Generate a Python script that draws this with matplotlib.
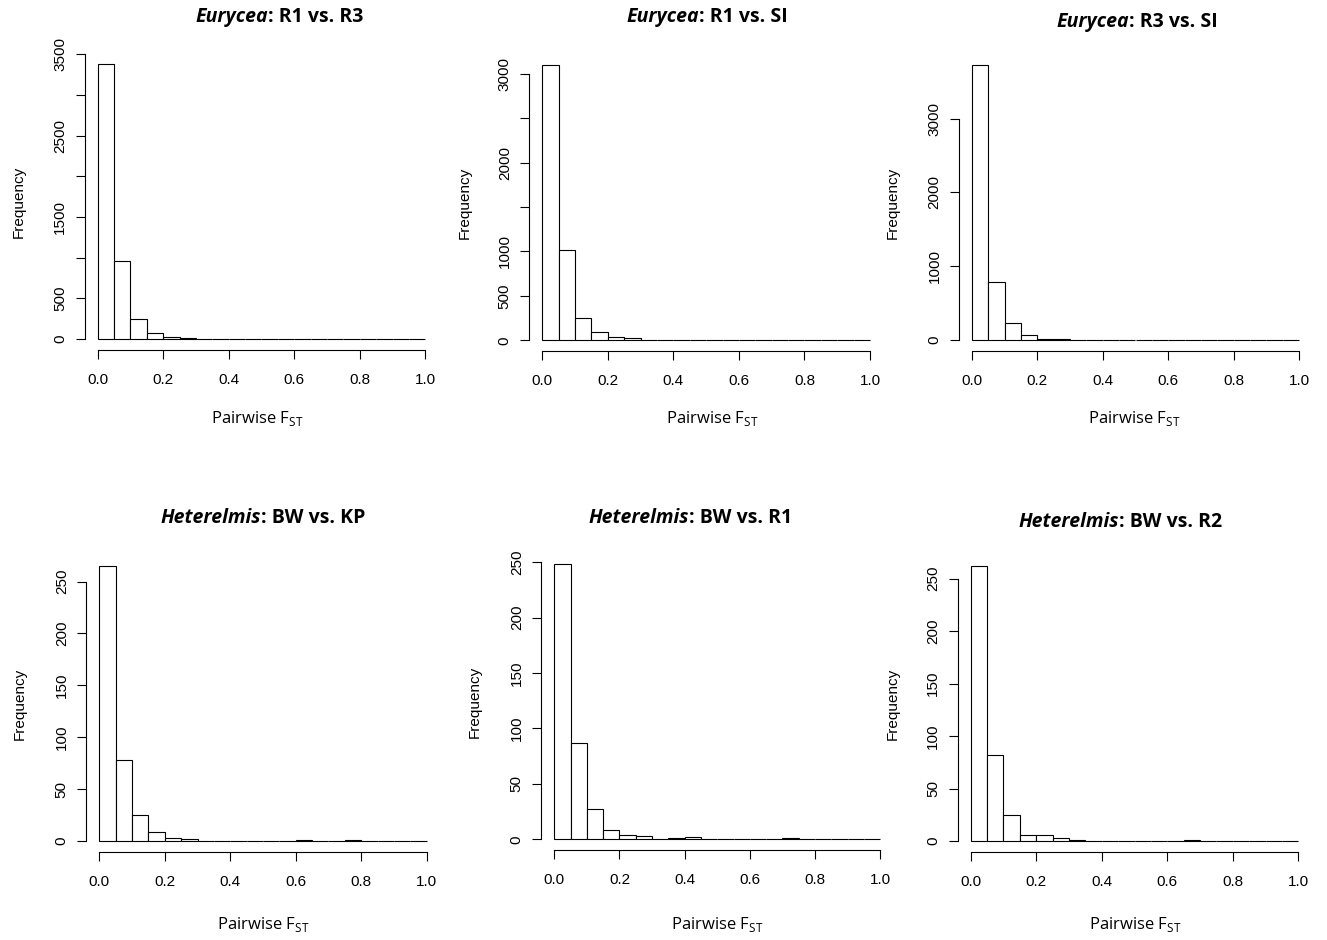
import numpy as np
import matplotlib
matplotlib.use("Agg")
import matplotlib.pyplot as plt

# ---------------- data ----------------
bin_edges = [round(0.05 * i, 2) for i in range(21)]

titles_genus = ["Eurycea", "Eurycea", "Eurycea", "Heterelmis", "Heterelmis", "Heterelmis"]
titles_pair = [": R1 vs. R3", ": R1 vs. SI", ": R3 vs. SI",
               ": BW vs. KP", ": BW vs. R1", ": BW vs. R2"]

counts_r1_r3 = [3381, 954, 250, 78, 29, 16, 5, 3, 0, 0, 0, 0, 0, 0, 0, 0, 0, 0, 0, 0]
counts_r1_si = [3098, 1018, 255, 98, 34, 23, 5, 2, 1, 2, 0, 2, 0, 0, 0, 0, 0, 0, 0, 0]
counts_r3_si = [3721, 785, 230, 68, 18, 13, 5, 2, 0, 0, 0, 0, 0, 0, 0, 0, 0, 0, 0, 0]
counts_bw_kp = [265, 78, 25, 9, 3, 2, 0, 0, 0, 0, 0, 0, 1, 0, 0, 1, 0, 0, 0, 0]
counts_bw_r1 = [248, 87, 27, 8, 4, 3, 0, 1, 2, 0, 0, 0, 0, 0, 1, 0, 0, 0, 0, 0]
counts_bw_r2 = [262, 82, 25, 6, 6, 3, 1, 0, 0, 0, 0, 0, 0, 1, 0, 0, 0, 0, 0, 0]

x_ticks = [0.0, 0.2, 0.4, 0.6, 0.8, 1.0]
x_ticklabels = ["0.0", "0.2", "0.4", "0.6", "0.8", "1.0"]

y_ticks_1 = [0, 500, 1000, 1500, 2000, 2500, 3000, 3500]
y_labels_1 = ["0", "500", "", "1500", "", "2500", "", "3500"]
y_ticks_2 = [0, 500, 1000, 1500, 2000, 2500, 3000]
y_labels_2 = ["0", "500", "1000", "", "2000", "", "3000"]
y_ticks_3 = [0, 1000, 2000, 3000]
y_labels_3 = ["0", "1000", "2000", "3000"]
y_ticks_h = [0, 50, 100, 150, 200, 250]
y_labels_h = ["0", "50", "100", "150", "200", "250"]

panels = [
    (counts_r1_r3, y_ticks_1, y_labels_1),
    (counts_r1_si, y_ticks_2, y_labels_2),
    (counts_r3_si, y_ticks_3, y_labels_3),
    (counts_bw_kp, y_ticks_h, y_labels_h),
    (counts_bw_r1, y_ticks_h, y_labels_h),
    (counts_bw_r2, y_ticks_h, y_labels_h),
]

# ---------------- layout (pixels) ----------------
W, H = 1327, 940
# left, right, top, bottom of plot regions
regions = [
    (84.6, 438.4, 53.0, 350.0),
    (529.2, 883.1, 54.2, 351.3),
    (958.9, 1312.1, 54.3, 351.0),
    (86.2, 439.8, 555.0, 852.0),
    (541.2, 893.3, 553.3, 850.3),
    (957.6, 1311.4, 555.0, 852.0),
]
title_pos = [(279.5, 17), (707, 17), (1137.3, 22),
             (262.7, 518.3), (690.3, 518.3), (1120.7, 521.7)]
xlabel_pos = [(257.5, 418), (712, 418), (1134, 418),
              (263, 925), (717, 925), (1135, 925)]
ylabel_x = [19, 465, 893, 20, 475, 893]

fig = plt.figure(figsize=(W / 100, H / 100), dpi=100)
fig.patch.set_facecolor("white")

axis_font = "Liberation Sans"
title_font = "Open Sans"
lw = 0.8

for (counts, yt, yl), (l, r, t, b), ylx in zip(panels, regions, ylabel_x):
    ax = fig.add_axes([l / W, 1 - b / H, (r - l) / W, (b - t) / H])
    edges = np.array(bin_edges)
    widths = np.diff(edges)
    ax.bar(edges[:-1], counts, width=widths, align="edge",
           facecolor="white", edgecolor="black", linewidth=lw)
    ymax = max(counts)
    ax.set_xlim(-0.04, 1.04)
    ax.set_ylim(-0.04 * ymax, 1.04 * ymax)
    for s in ["top", "right"]:
        ax.spines[s].set_visible(False)
    ax.spines["left"].set_bounds(yt[0], yt[-1])
    ax.spines["bottom"].set_bounds(0, 1)
    ax.spines["left"].set_linewidth(lw)
    ax.spines["bottom"].set_linewidth(lw)
    ax.set_xticks(x_ticks)
    ax.set_xticklabels(x_ticklabels, fontsize=11, family=axis_font)
    ax.set_yticks(yt)
    ax.set_yticklabels(yl, fontsize=11, family=axis_font, rotation=90, va="center")
    ax.tick_params(axis="both", direction="out", length=6.5, width=lw, color="black")
    ax.tick_params(axis="x", pad=10)
    ax.tick_params(axis="y", pad=6)
    ax.set_ylabel("Frequency", fontsize=11, family=axis_font)
    ax.yaxis.set_label_coords((ylx - l) / (r - l), 0.5)
    ax.yaxis.label.set_va("center")
    ax.patch.set_alpha(0)

# titles: italic bold genus + bold rest, centred as a unit
fig.canvas.draw()
renderer = fig.canvas.get_renderer()
for genus, pair, (cx, cy) in zip(titles_genus, titles_pair, title_pos):
    t1 = fig.text(0, 1 - cy / H, genus, fontsize=14, family=title_font,
                  style="italic", weight="bold", va="center", ha="left")
    t2 = fig.text(0, 1 - cy / H, pair, fontsize=14, family=title_font,
                  weight="bold", va="center", ha="left")
    w1 = t1.get_window_extent(renderer).width
    w2 = t2.get_window_extent(renderer).width
    x0 = cx - (w1 + w2) / 2
    t1.set_x(x0 / W)
    t2.set_x((x0 + w1) / W)

for (cx, cy) in xlabel_pos:
    fig.text(cx / W, 1 - cy / H, r"Pairwise F$_{\mathregular{ST}}$",
             fontsize=12, family=title_font, ha="center", va="center")

fig.savefig("out.png", dpi=100, facecolor="white")
